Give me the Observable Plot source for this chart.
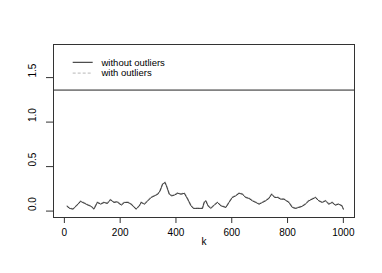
<!DOCTYPE html>
<html>
<head>
<meta charset="utf-8">
<script src="https://cdn.jsdelivr.net/npm/d3@7"></script>
<script src="https://cdn.jsdelivr.net/npm/@observablehq/plot@0.6"></script>
<style>
  html, body { margin: 0; padding: 0; background: white; }
  #chart { width: 382px; height: 273px; }
</style>
</head>
<body>
<div id="chart"></div>
<script>
const kValues = [10,19,31,43,58,73,85,96,106,118,130,142,154,165,178,189,204,215,228,239,257,269,275,287,299,311,323,335,343,352,361,368,376,385,394,406,418,430,442,454,463,478,495,501,507,515,525,537,549,561,579,590,602,614,626,638,650,662,674,686,698,710,721,733,743,754,765,775,787,796,805,817,829,840,852,864,876,888,900,912,924,936,948,960,971,983,995,1000];
const withoutOutliers = [0.053,0.030,0.022,0.059,0.109,0.086,0.067,0.053,0.022,0.097,0.078,0.097,0.086,0.127,0.097,0.104,0.067,0.097,0.097,0.078,0.022,0.059,0.097,0.078,0.115,0.153,0.171,0.190,0.227,0.302,0.321,0.265,0.190,0.171,0.179,0.200,0.190,0.200,0.134,0.059,0.030,0.030,0.030,0.097,0.115,0.059,0.030,0.067,0.097,0.059,0.041,0.097,0.153,0.171,0.200,0.190,0.153,0.142,0.115,0.097,0.078,0.097,0.115,0.142,0.190,0.153,0.153,0.134,0.134,0.115,0.097,0.041,0.030,0.041,0.053,0.078,0.115,0.134,0.153,0.115,0.097,0.115,0.078,0.097,0.067,0.078,0.059,0.022];
const withOutliers = [0.056,0.033,0.025,0.061,0.112,0.089,0.070,0.056,0.025,0.100,0.081,0.100,0.089,0.130,0.100,0.107,0.070,0.100,0.100,0.081,0.025,0.062,0.100,0.081,0.118,0.156,0.174,0.193,0.230,0.305,0.324,0.268,0.193,0.174,0.182,0.203,0.193,0.203,0.137,0.062,0.033,0.033,0.033,0.100,0.118,0.062,0.033,0.070,0.100,0.062,0.044,0.100,0.156,0.174,0.203,0.193,0.156,0.145,0.118,0.100,0.081,0.100,0.118,0.145,0.193,0.156,0.156,0.137,0.137,0.118,0.100,0.044,0.033,0.044,0.056,0.081,0.118,0.137,0.156,0.118,0.100,0.118,0.081,0.100,0.070,0.081,0.062,0.025];
const threshold = 1.36;
const xTicks = [0,200,400,600,800,1000];
const yTicks = [0,0.5,1,1.5];
const legendLabels = ["without outliers","with outliers"];

const rowsA = kValues.map((k,i) => ({k, v: withoutOutliers[i]}));
const rowsB = kValues.map((k,i) => ({k, v: withOutliers[i]}));

const fmt = d3.format(".1f");
const chart = Plot.plot({
  width: 382,
  height: 273,
  marginLeft: 53,
  marginRight: 28,
  marginTop: 44,
  marginBottom: 56,
  style: {fontFamily: "'Liberation Sans', Arial, Helvetica, sans-serif", fontSize: "10px", background: "white", color: "black"},
  x: {domain: [-38.96, 1039.96]},
  y: {domain: [-0.072, 1.872]},
  marks: [
    Plot.line(rowsB, {x: "k", y: "v", stroke: "#b0b0b0", strokeWidth: 1.5, strokeDasharray: "3,2"}),
    Plot.line(rowsA, {x: "k", y: "v", stroke: "#222", strokeWidth: 0.8}),
    Plot.ruleY([threshold], {stroke: "#222", strokeWidth: 1}),
    Plot.axisX({ticks: xTicks, tickSize: 6, tickPadding: 5, tickFormat: d3.format("d"), label: null, stroke: "#333", fill: "black"}),
    Plot.axisY({ticks: yTicks, tickSize: 7, tickFormat: () => "", label: null, stroke: "#333"}),
    Plot.text(yTicks, {y: d => d, text: d => fmt(d), frameAnchor: "left", dx: -21, rotate: -90, fill: "black"}),
    Plot.text(["k"], {text: d => d, frameAnchor: "bottom", dy: 27, fill: "black"}),
    Plot.frame({stroke: "#333", strokeWidth: 1})
  ]
});
document.getElementById("chart").appendChild(chart);

// Legend (inside plot region, top-left)
const svg = d3.select(chart);
const g = svg.append("g")
  .attr("font-size", "9.5px")
  .attr("text-anchor", "start")
  .attr("font-family", "'Liberation Sans', Arial, Helvetica, sans-serif");
const styles = [{stroke: "#222", dash: null, w: 1}, {stroke: "#b8b8b8", dash: "3,2", w: 1}];
legendLabels.forEach((lab, i) => {
  const y = 62.3 + i * 10.8;
  g.append("line").attr("x1", 72.7).attr("x2", 92.7).attr("y1", y).attr("y2", y)
    .attr("stroke", styles[i].stroke).attr("stroke-width", styles[i].w)
    .attr("stroke-dasharray", styles[i].dash);
  g.append("text").attr("x", 101.5).attr("y", y).attr("dy", "0.35em")
    .attr("text-anchor", "start").attr("fill", "black").text(lab);
});
</script>
</body>
</html>
